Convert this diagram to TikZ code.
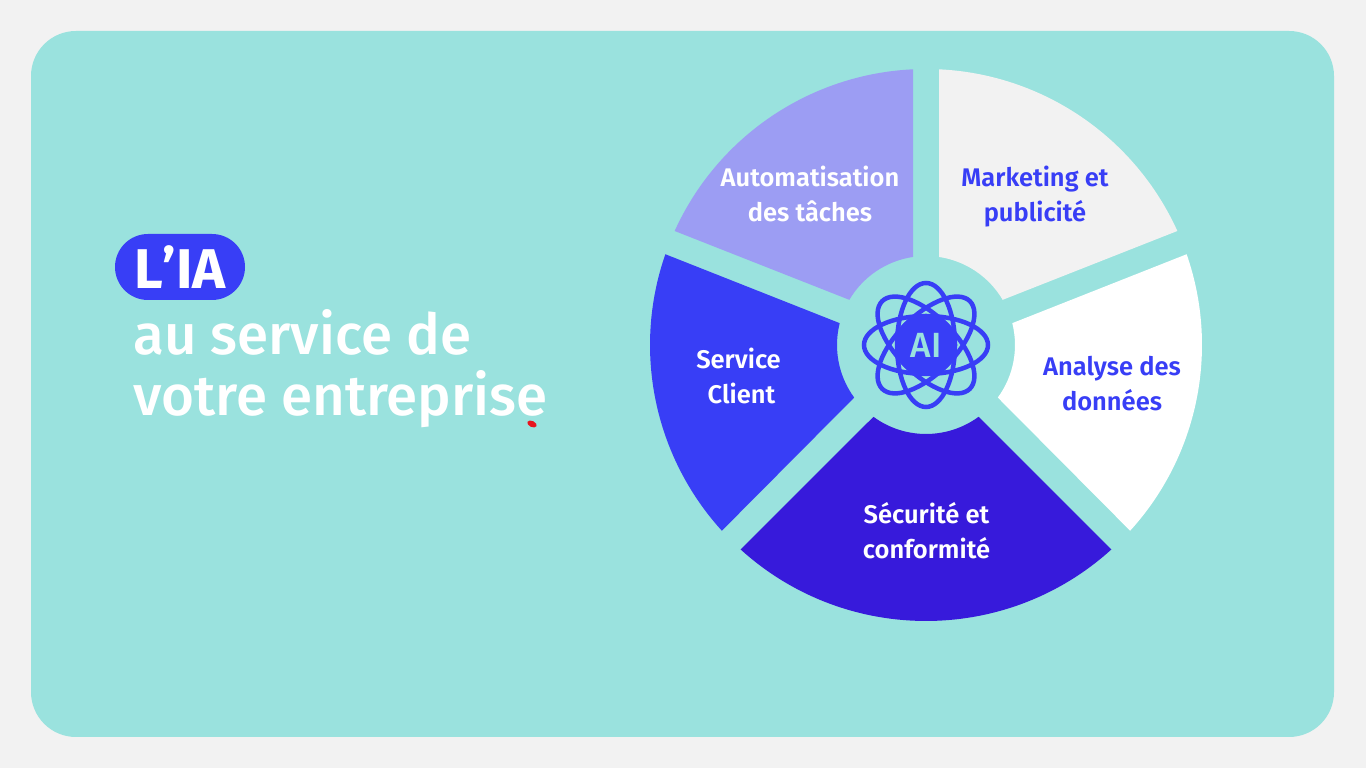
\documentclass[tikz,border=0pt]{standalone}
\usepackage{fontspec}
\setmainfont{Fira Sans}
\newfontfamily\firasemi{Fira Sans SemiBold}
\newfontfamily\firamed{Fira Sans Medium}
\newfontfamily\firabold[Kerning=Off]{Fira Sans Bold}
\usepackage{tikz}
\definecolor{pagegray}{HTML}{F2F2F2}
\definecolor{panelteal}{HTML}{9AE2DE}
\definecolor{royalblue}{HTML}{383EF6}
\definecolor{deepblue}{HTML}{371ADB}
\definecolor{paleblue}{HTML}{9C9DF3}
\definecolor{markred}{HTML}{E8141E}

\begin{document}
\begin{tikzpicture}[x=1pt,y=1pt,
    sectorlabel/.style={font=\firasemi\fontsize{25.5}{35}\selectfont,align=center,inner sep=0pt},
    titleline/.style={font=\firamed\fontsize{56.5}{60}\selectfont,text=white,anchor=base west,inner sep=0pt},
    atomline/.style={draw=royalblue,line width=4.5pt}]
    % Page and Panel
    \useasboundingbox (0,0) rectangle (1366,768);
    \fill[pagegray] (0,0) rectangle (1366,768);
    \fill[panelteal,rounded corners=45pt] (31,31) rectangle (1334,737);
    % Title
    \node[fill=royalblue,rounded corners=33pt,minimum width=130pt,minimum height=66pt,inner sep=0pt,
        text=white,font=\firabold\fontsize{56}{60}\selectfont] (pill) at (180,501) {L’IA};
    \node[titleline] (line1) at (133,413.5) {au service de};
    \node[titleline] (line2) at (133,352.5) {votre entreprise};
    \fill[markred,rotate around={-25:(532,344)}] (532,344) ellipse (5 and 3);
    % Wheel Sectors
    \coordinate (hub) at (926,423);
    \fill[paleblue,shift={(hub)}] (92.7:276) arc (92.7:155.6:276) -- (149.5:89) arc (149.5:98.4:89) -- cycle;
    \fill[pagegray,shift={(hub)}] (87.3:276) arc (87.3:24.4:276) -- (30.5:89) arc (30.5:81.6:89) -- cycle;
    \fill[white,shift={(hub)}] (19.2:276) arc (19.2:-42.3:276) -- (-36.2:89) arc (-36.2:14.2:89) -- cycle;
    \fill[deepblue,shift={(hub)}] (-47.8:276) arc (-47.8:-132.2:276) -- (-126.2:89) arc (-126.2:-53.8:89) -- cycle;
    \fill[royalblue,shift={(hub)}] (-137.7:276) arc (-137.7:-199.2:276) -- (-194.2:89) arc (-194.2:-143.8:89) -- cycle;
    % Sector Labels
    \node[sectorlabel,text=white] (auto) at (810,574) {Automatisation\\des tâches};
    \node[sectorlabel,text=royalblue] (marketing) at (1035,571) {Marketing et\\publicité};
    \node[sectorlabel,text=royalblue] (analyse) at (1112,384) {Analyse des\\données};
    \node[sectorlabel,text=white] (securite) at (926.5,237) {Sécurité et\\conformité};
    \node[sectorlabel,text=white] (client) at (741.5,392) {Service\kern6pt\\Client};
    % Atom
    \draw[atomline] (hub) ellipse (62 and 29);
    \draw[atomline,rotate around={45:(hub)}] (hub) ellipse (62 and 29);
    \draw[atomline,rotate around={90:(hub)}] (hub) ellipse (62 and 29);
    \draw[atomline,rotate around={135:(hub)}] (hub) ellipse (62 and 29);
    \node[circle,fill=royalblue,minimum size=62pt,inner sep=0pt,text=panelteal,
        font=\firamed\fontsize{35}{37}\selectfont] (core) at (hub) {AI};
\end{tikzpicture}
\end{document}
